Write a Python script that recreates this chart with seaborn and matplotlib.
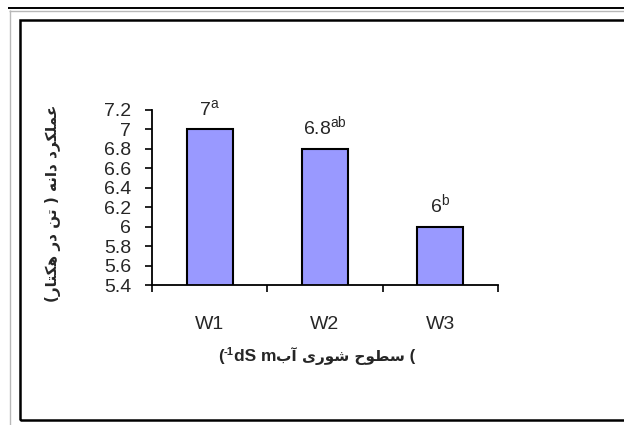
import numpy as np
import matplotlib
matplotlib.use("Agg")
import matplotlib.pyplot as plt
from matplotlib.lines import Line2D
from matplotlib.patches import Rectangle
import seaborn as sns

# ---- data -------------------------------------------------------------
categories = ["W1", "W2", "W3"]
yield_values = [7.0, 6.8, 6.0]
group_letters = ["a", "ab", "b"]
y_ticks = [5.4, 5.6, 5.8, 6.0, 6.2, 6.4, 6.6, 6.8, 7.0, 7.2]

y_title = "عملکرد دانه ( تن در هکتار)"
x_title_fa = "سطوح شوری آب"
x_title_unit = "dS m"
x_title_exp = "-1"

# ---- simple Arabic-script shaping (contextual forms + visual order) ----
# (isolated, final, initial, medial); None = does not join to the next letter
FORMS = {
    "ا": ("\uFE8D", "\uFE8E", None, None),
    "آ": ("\uFE81", "\uFE82", None, None),
    "ب": ("\uFE8F", "\uFE90", "\uFE91", "\uFE92"),
    "ت": ("\uFE95", "\uFE96", "\uFE97", "\uFE98"),
    "ح": ("\uFEA1", "\uFEA2", "\uFEA3", "\uFEA4"),
    "د": ("\uFEA9", "\uFEAA", None, None),
    "ر": ("\uFEAD", "\uFEAE", None, None),
    "س": ("\uFEB1", "\uFEB2", "\uFEB3", "\uFEB4"),
    "ش": ("\uFEB5", "\uFEB6", "\uFEB7", "\uFEB8"),
    "ط": ("\uFEC1", "\uFEC2", "\uFEC3", "\uFEC4"),
    "ع": ("\uFEC9", "\uFECA", "\uFECB", "\uFECC"),
    "ک": ("\uFED9", "\uFEDA", "\uFEDB", "\uFEDC"),
    "ل": ("\uFEDD", "\uFEDE", "\uFEDF", "\uFEE0"),
    "م": ("\uFEE1", "\uFEE2", "\uFEE3", "\uFEE4"),
    "ن": ("\uFEE5", "\uFEE6", "\uFEE7", "\uFEE8"),
    "ه": ("\uFEE9", "\uFEEA", "\uFEEB", "\uFEEC"),
    "و": ("\uFEED", "\uFEEE", None, None),
    "ی": ("\uFEEF", "\uFEF0", "\uFEF3", "\uFEF4"),
}
MIRROR = {"(": ")", ")": "("}


def shape_rtl(text):
    out = []
    for i, c in enumerate(text):
        if c not in FORMS:
            out.append(MIRROR.get(c, c))
            continue
        prev = text[i - 1] if i > 0 else None
        nxt = text[i + 1] if i + 1 < len(text) else None
        join_prev = prev in FORMS and FORMS[prev][2] is not None
        join_next = nxt in FORMS and FORMS[c][2] is not None
        iso, fin, ini, med = FORMS[c]
        if join_prev and join_next:
            out.append(med)
        elif join_prev:
            out.append(fin)
        elif join_next:
            out.append(ini)
        else:
            out.append(iso)
    return "".join(reversed(out))


# ---- style ------------------------------------------------------------
sns.set_style("white")
plt.rcParams["font.family"] = ["Liberation Sans", "DejaVu Sans"]
plt.rcParams["mathtext.fontset"] = "custom"
plt.rcParams["mathtext.rm"] = "Liberation Sans"

W, H = 624, 425
fig = plt.figure(figsize=(W / 100, H / 100), dpi=100)
fig.patch.set_facecolor("white")
ax = fig.add_axes([152 / W, 1 - 285 / H, (498 - 152) / W, (285 - 110) / H])

sns.barplot(x=categories, y=yield_values, color="#9999ff", saturation=1,
            edgecolor="black", linewidth=1.5, width=0.4, ax=ax)

ax.set_ylim(y_ticks[0], y_ticks[-1])
ax.set_xlim(-0.5, len(categories) - 0.5)
ax.set_yticks(y_ticks)
ax.set_yticklabels([f"{t:g}" for t in y_ticks], fontsize=14)

# category labels centred, tick marks at category boundaries
ax.set_xticks(range(len(categories)))
ax.set_xticklabels(categories, fontsize=14)
ax.set_xticks(np.arange(-0.5, len(categories), 1.0), minor=True)
ax.tick_params(axis="x", which="major", length=0, pad=22)
ax.tick_params(axis="x", which="minor", length=5, width=1.2, color="black",
               direction="out", bottom=True)
ax.tick_params(axis="y", length=5, width=1.2, color="black", direction="out",
               left=True, pad=10)

for side in ("top", "right"):
    ax.spines[side].set_visible(False)
for side in ("left", "bottom"):
    ax.spines[side].set_color("black")
    ax.spines[side].set_linewidth(1.3)

ax.set_xlabel("")
ax.set_ylabel("")

# value labels with significance letters
for i, (v, letter) in enumerate(zip(yield_values, group_letters)):
    ax.annotate(f"{v:g}" + r"$^{\mathrm{" + letter + "}}$", (i, v),
                xytext=(0, 10), textcoords="offset points",
                ha="center", va="baseline", fontsize=14)

# y axis title
fig.text(53 / W, 1 - 203 / H, shape_rtl(y_title), rotation=90,
         ha="center", va="center", fontsize=11, fontweight="bold",
         family=["DejaVu Sans"])

# x axis title, laid out piece by piece along one baseline
renderer = fig.canvas.get_renderer()
pieces = [
    ("(", 12, "Liberation Sans", 0),
    (x_title_exp, 8, "Liberation Sans", 6),
    (x_title_unit, 12.5, "Liberation Sans", 0),
    (shape_rtl(x_title_fa), 11, "DejaVu Sans", 0),
    ("\u00A0(", 12, "Liberation Sans", 0),
]
texts = []
for s, size, fam, rise in pieces:
    t = fig.text(0, 0, s, fontsize=size, fontweight="bold", family=fam,
                 ha="left", va="baseline")
    texts.append((t, rise))
widths = [t.get_window_extent(renderer).width for t, _ in texts]
x_px = 317 - sum(widths) / 2
baseline_px = 361
for (t, rise), w in zip(texts, widths):
    t.set_position((x_px / W, 1 - (baseline_px - rise) / H))
    x_px += w

# page frame
def px_line(x0, y0, x1, y1, color, lw):
    fig.add_artist(Line2D([x0 / W, x1 / W], [1 - y0 / H, 1 - y1 / H],
                          transform=fig.transFigure, color=color, lw=lw,
                          solid_capstyle="butt"))

px_line(8, 8, W, 8, "black", 1.4)
px_line(9, 10.5, W, 10.5, "#b8b8b8", 1.0)
px_line(9.5, 10, 9.5, H, "#b8b8b8", 1.0)
fig.add_artist(Rectangle((20 / W, 1 - 420 / H), (W + 20) / W, 400 / H,
                         transform=fig.transFigure, fill=False,
                         edgecolor="black", lw=1.8))

fig.savefig("out.png", dpi=100, facecolor="white")
